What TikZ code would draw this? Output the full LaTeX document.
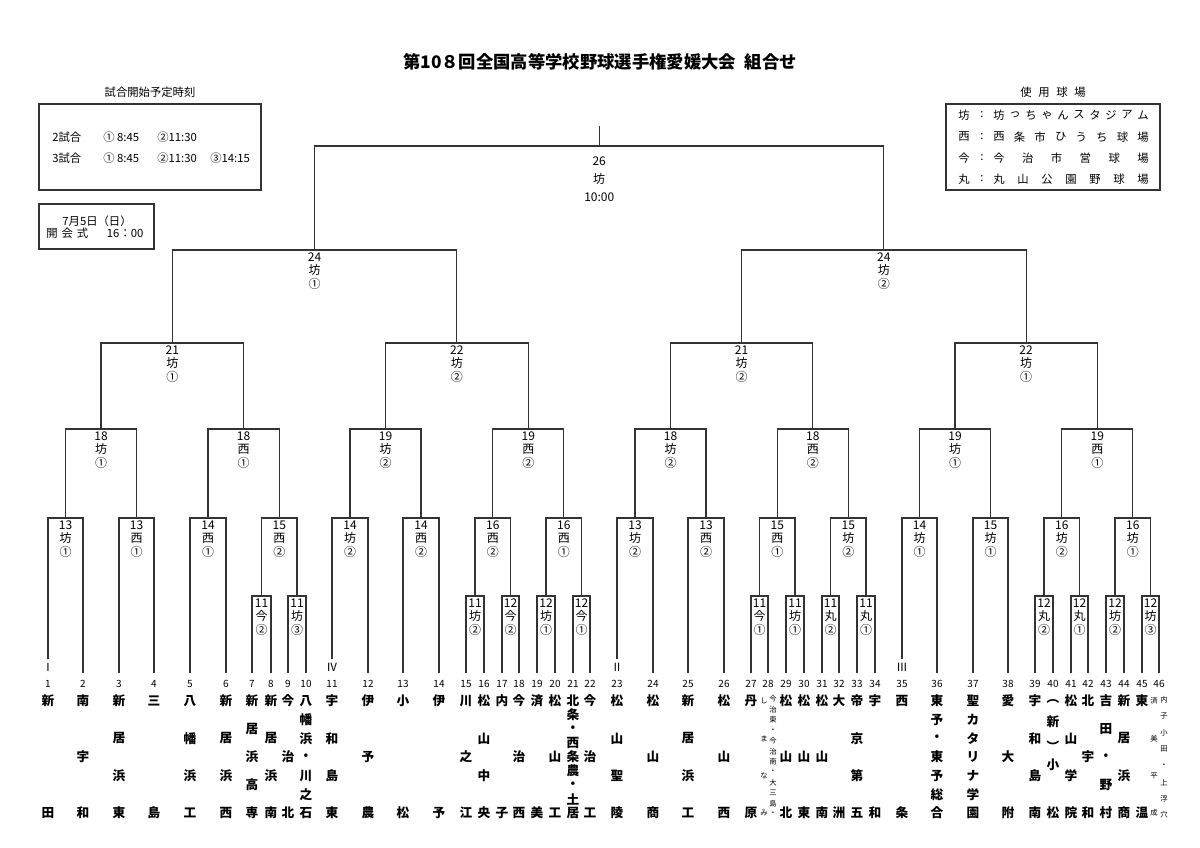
\documentclass[tikz,border=0pt]{standalone}
\usepackage{fontspec}
\setmainfont{Noto Sans CJK JP}
\usetikzlibrary{calc, positioning}
\tikzset{
  line/.style={draw=black!80, line width=0.9pt},
  box/.style={draw=black!80, line width=0.9pt, inner sep=0pt},
  lab/.style={anchor=north, inner sep=0pt, align=center, yshift=-2pt, font=\fontsize{9}{10}\selectfont},
  num/.style={inner sep=0pt, font=\fontsize{7.5}{8}\selectfont},
  team/.style={inner sep=0pt, font=\bfseries\fontsize{9.5}{10}\selectfont},
  tiny/.style={inner sep=0pt, font=\fontsize{5.5}{6}\selectfont},
  note/.style={inner sep=0pt, font=\fontsize{8.5}{10}\selectfont},
}

\begin{document}
\begin{tikzpicture}[x=0.75pt, y=-0.75pt]
  \useasboundingbox (0,0) rectangle (1200,848);

  \node[font=\bfseries\fontsize{13}{14}\selectfont] (title) at (600,62) {第10８回全国高等学校野球選手権愛媛大会\hspace{0.5em}組合せ};

  % start times
  \node[box, minimum width=166.5pt, minimum height=64.5pt] (tbox) at (150,147) {};
  \node[note, above=4pt of tbox] (thead) {試合開始予定時刻};
  \node[note, anchor=west] (g2) at (52,137) {2試合};
  \node[note, anchor=west] (g2a) at (103,137) {①\ 8:45};
  \node[note, anchor=west] (g2b) at (157,137) {②11:30};
  \node[note, anchor=west] (g3) at (52,158) {3試合};
  \node[note, anchor=west] (g3a) at (103,158) {①\ 8:45};
  \node[note, anchor=west] (g3b) at (157,158) {②11:30};
  \node[note, anchor=west] (g3c) at (210,158) {③14:15};

  \node[box, minimum width=86.25pt, minimum height=33.75pt] (obox) at (96.5,226.5) {};
  \node[note] (o1) at (97,221) {7月5日（日）};
  \node[note, anchor=west] (o2) at (46,233) {開\hspace{3pt}会\hspace{3pt}式\hspace{14pt}16：00};

  % grounds
  \node[box, minimum width=160.5pt, minimum height=64.5pt] (vbox) at (1053,147) {};
  \node[note, above=4pt of vbox] (vhead) {使\hspace{5pt}用\hspace{5pt}球\hspace{5pt}場};
  \foreach \r/\y/\k/\kk/\nm in {1/115/10/坊/{坊,っ,ち,ゃ,ん,ス,タ,ジ,ア,ム},
      2/137/8/西/{西,条,市,ひ,う,ち,球,場}, 3/158/6/今/{今,治,市,営,球,場},
      4/179/7/丸/{丸,山,公,園,野,球,場}}{
    \node[note] (vk\r) at (964,\y) {\kk};
    \node[note] (vc\r) at (982,\y) {:};
    \foreach \ch [count=\j] in \nm
      \node[note] (v\r-\j) at ({999+(\j-1)*144/(\k-1)},\y) {\ch};
  }

  \foreach \lv/\y in {1/596, 2/518, 3/429, 4/343, 5/250, 6/146, 7/126}
    \coordinate (lv\lv) at (0,\y);

  % teams
  \foreach \i/\x in {1/48, 2/83, 3/119, 4/154, 5/190, 6/226, 7/252, 8/271, 9/288, 10/306,
      11/332, 12/368, 13/403, 14/439, 15/466, 16/484, 17/502, 18/519, 19/537, 20/555,
      21/573, 22/590, 23/617, 24/653, 25/688, 26/724, 27/751, 28/768, 29/786, 30/804,
      31/822, 32/839, 33/857, 34/875, 35/902, 36/937, 37/973, 38/1008, 39/1035, 40/1053,
      41/1071, 42/1088, 43/1106, 44/1124, 45/1142, 46/1159}{
    \coordinate (t\i) at (\x,673);
    \node[num] (n\i) at (\x,684) {\i};
  }
  \foreach \i/\rn in {1/Ⅰ, 11/Ⅳ, 23/Ⅱ, 35/Ⅲ}{
    \node[num, font=\fontsize{8.5}{9}\selectfont] (r\i) at ($(n\i)+(0,-17)$) {\rn};
    \coordinate (t\i) at ($(n\i)+(0,-25)$);
  }

  \foreach \i/\k/\nm in {1/2/{新,田}, 2/3/{南,宇,和}, 3/4/{新,居,浜,東}, 4/2/{三,島},
      5/4/{八,幡,浜,工}, 6/4/{新,居,浜,西}, 7/5/{新,居,浜,高,専}, 8/4/{新,居,浜,南},
      9/3/{今,治,北}, 10/7/{八,幡,浜,・,川,之,石}, 11/4/{宇,和,島,東}, 12/3/{伊,予,農},
      13/2/{小,松}, 14/2/{伊,予}, 15/3/{川,之,江}, 16/4/{松,山,中,央}, 17/2/{内,子},
      18/3/{今,治,西}, 19/2/{済,美}, 20/3/{松,山,工}, 21/9/{北,条,・,西,条,農,・,土,居},
      22/3/{今,治,工}, 23/4/{松,山,聖,陵}, 24/3/{松,山,商}, 25/4/{新,居,浜,工},
      26/3/{松,山,西}, 27/2/{丹,原}, 29/3/{松,山,北}, 30/3/{松,山,東}, 31/3/{松,山,南},
      32/2/{大,洲}, 33/4/{帝,京,第,五}, 34/2/{宇,和}, 35/2/{西,条},
      36/7/{東,予,・,東,予,総,合}, 37/7/{聖,カ,タ,リ,ナ,学,園}, 38/3/{愛,大,附},
      39/4/{宇,和,島,南}, 41/4/{松,山,学,院}, 42/3/{北,宇,和}, 43/5/{吉,田,・,野,村},
      44/4/{新,居,浜,商}, 45/2/{東,温}}{
    \foreach \ch [count=\j] in \nm
      \node[team] (c\i-\j) at ($(n\i)+(0,{17+(\j-1)*112/(\k-1)})$) {\ch};
  }
  \foreach \ch/\dy [count=\j] in {︵/17, 新/38, ︶/62, 小/81, 松/129}
    \node[team] (c40-\j) at ($(n40)+(0,\dy)$) {\ch};
  \foreach \ch [count=\j] in {し,ま,な,み}
    \node[tiny] (c28a-\j) at ($(n28)+(-4,{17+(\j-1)*112/3})$) {\ch};
  \foreach \ch [count=\j] in {今,治,東,・,今,治,南,・,大,三,島,・}
    \node[tiny] (c28b-\j) at ($(n28)+(5,{15+(\j-1)*115/11})$) {\ch};
  \foreach \ch [count=\j] in {済,美,平,成}
    \node[tiny] (c46a-\j) at ($(n46)+(-5,{17+(\j-1)*112/3})$) {\ch};
  \foreach \ch [count=\j] in {内,子,小,田,・,上,浮,穴}
    \node[tiny] (c46b-\j) at ($(n46)+(5,{16+(\j-1)*115/7})$) {\ch};

  % matches
  \foreach \mm/\ca/\cb/\lv/\ga/\gb/\gc in {
      p7/t7/t8/1/11/今/②, p9/t9/t10/1/11/坊/③, p15/t15/t16/1/11/坊/②,
      p17/t17/t18/1/12/今/②, p19/t19/t20/1/12/坊/①, p21/t21/t22/1/12/今/①,
      p27/t27/t28/1/11/今/①, p29/t29/t30/1/11/坊/①, p31/t31/t32/1/11/丸/②,
      p33/t33/t34/1/11/丸/①, p39/t39/t40/1/12/丸/②, p41/t41/t42/1/12/丸/①,
      p43/t43/t44/1/12/坊/②, p45/t45/t46/1/12/坊/③,
      q1/t1/t2/2/13/坊/①, q3/t3/t4/2/13/西/①, q5/t5/t6/2/14/西/①, q7/p7/p9/2/15/西/②,
      q11/t11/t12/2/14/坊/②, q13/t13/t14/2/14/西/②, q15/p15/p17/2/16/西/②,
      q19/p19/p21/2/16/西/①, q23/t23/t24/2/13/坊/②, q25/t25/t26/2/13/西/②,
      q27/p27/p29/2/15/西/①, q31/p31/p33/2/15/坊/②, q35/t35/t36/2/14/坊/①,
      q37/t37/t38/2/15/坊/①, q39/p39/p41/2/16/坊/②, q43/p43/p45/2/16/坊/①,
      s1/q1/q3/3/18/坊/①, s5/q5/q7/3/18/西/①, s11/q11/q13/3/19/坊/②,
      s15/q15/q19/3/19/西/②, s23/q23/q25/3/18/坊/②, s27/q27/q31/3/18/西/②,
      s35/q35/q37/3/19/坊/①, s39/q39/q43/3/19/西/①,
      u1/s1/s5/4/21/坊/①, u11/s11/s15/4/22/坊/②, u23/s23/s27/4/21/坊/②,
      u35/s35/s39/4/22/坊/①, v1/u1/u11/5/24/坊/①, v23/u23/u35/5/24/坊/②}{
    \coordinate (h) at ($(\ca)!.5!(\cb)$);
    \coordinate (\mm) at (h |- lv\lv);
    \draw[line] (\ca) |- (\mm) -| (\cb);
    \node[lab] (\mm-l) at (\mm) {\ga\\\gb\\\gc};
  }

  % final
  \coordinate (h) at ($(v1)!.5!(v23)$);
  \coordinate (w) at (h |- lv6);
  \coordinate (top) at (w |- lv7);
  \draw[line] (v1) |- (w) -| (v23);
  \draw[line] (w) -- (top);
  \node[lab, yshift=-6pt, font=\fontsize{9}{13.5}\selectfont] (w-l) at (w) {26\\坊\\10:00};
\end{tikzpicture}
\end{document}
